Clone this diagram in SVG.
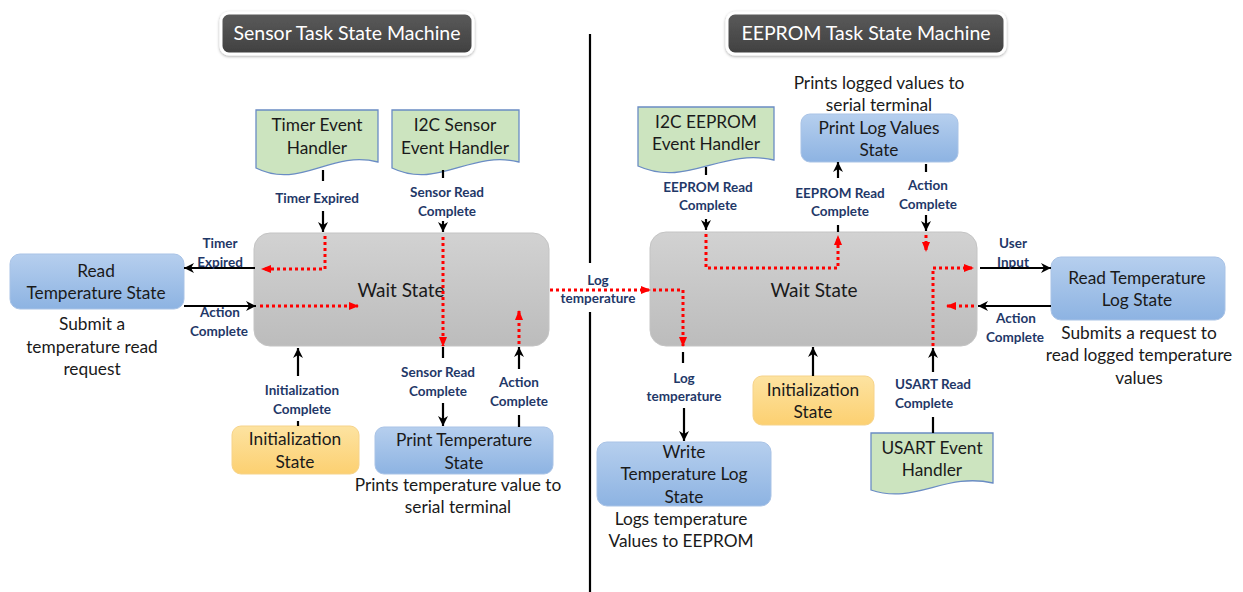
<svg xmlns="http://www.w3.org/2000/svg" width="1243" height="592" viewBox="0 0 1243 592">
<defs>
<linearGradient id="gBlue" x1="0" y1="0" x2="0" y2="1"><stop offset="0" stop-color="#b6cfee"/><stop offset="1" stop-color="#8db3e2"/></linearGradient>
<linearGradient id="gOrange" x1="0" y1="0" x2="0" y2="1"><stop offset="0" stop-color="#fde3a1"/><stop offset="1" stop-color="#fcd071"/></linearGradient>
<linearGradient id="gGray" x1="0" y1="0" x2="0" y2="1"><stop offset="0" stop-color="#d2d2d2"/><stop offset="1" stop-color="#bcbcbc"/></linearGradient>
<linearGradient id="gTitle" x1="0" y1="0" x2="0" y2="1"><stop offset="0" stop-color="#5a5a5a"/><stop offset="1" stop-color="#404040"/></linearGradient>
<filter id="shadow" x="-10%" y="-30%" width="120%" height="160%"><feDropShadow dx="0" dy="1" stdDeviation="1.5" flood-color="#000" flood-opacity="0.35"/></filter>
<marker id="ab" markerUnits="userSpaceOnUse" markerWidth="12" markerHeight="12" viewBox="0 0 12 12" refX="11" refY="6" orient="auto"><path d="M1,1 L11,6 L1,11 L4,6 Z" fill="#000"/></marker>
<marker id="ar" markerUnits="userSpaceOnUse" markerWidth="10" markerHeight="10" viewBox="0 0 10 10" refX="9" refY="5" orient="auto"><path d="M0,1 L10,5 L0,9 Z" fill="#ff0000"/></marker>
<style>
.title{fill:url(#gTitle);stroke:#fff;stroke-width:3;filter:url(#shadow)}
.tt{font-family:Lato,"Liberation Sans",sans-serif;font-size:19.5px;fill:#fff;text-anchor:middle}
.blue{fill:url(#gBlue);stroke:#a9c3e6;stroke-width:1}
.orange{fill:url(#gOrange);stroke:#f6d38a;stroke-width:1}
.gray{fill:url(#gGray);stroke:#c4c4c4;stroke-width:1}
.doc{fill:#cce4bf;stroke:#6a8cc4;stroke-width:1.3}
.t{font-family:Lato,"Liberation Sans",sans-serif;font-size:17.3px;fill:#1a1a1a;text-anchor:middle}
.tw{font-family:Lato,"Liberation Sans",sans-serif;font-size:19px;fill:#1a1a1a;text-anchor:middle}
.l{font-family:Lato,"Liberation Sans",sans-serif;font-size:13.5px;font-weight:bold;fill:#1f3868;text-anchor:middle}
.ls{font-family:Lato,"Liberation Sans",sans-serif;font-size:13.5px;font-weight:bold;fill:#1f3868}
.bk{fill:none;stroke:#000;stroke-width:2.2}
.ba{fill:none;stroke:#000;stroke-width:2.2;marker-end:url(#ab)}
.rd{fill:none;stroke:#ff0000;stroke-width:3;stroke-dasharray:3 3;marker-end:url(#ar)}
</style>
</defs>
<rect width="1243" height="592" fill="#fff"/>

<g id="title-sensor"><rect class="title" x="221" y="13" width="252" height="41" rx="8"/><text class="tt" x="347" y="40">Sensor Task State Machine</text></g>
<g id="title-eeprom"><rect class="title" x="727" y="13" width="278" height="41" rx="8"/><text class="tt" x="866" y="40">EEPROM Task State Machine</text></g>

<g id="divider"><path class="bk" d="M590,34 V263 M590,312 V592"/></g>

<!-- Left side nodes -->
<g id="wait-sensor"><rect class="gray" x="254" y="233" width="295" height="113" rx="16"/><text class="tw" x="401" y="297">Wait State</text></g>
<g id="read-temp"><rect class="blue" x="10" y="254" width="174" height="55" rx="10"/><text class="t" x="96" y="277">Read</text><text class="t" x="96" y="299">Temperature State</text>
<text class="t" x="92" y="330">Submit a</text><text class="t" x="92" y="353">temperature read</text><text class="t" x="92" y="375">request</text></g>
<g id="timer-handler"><path class="doc" d="M256,110 H378 V162 C330,150 300,190 256,168 Z"/><text class="t" x="317" y="131">Timer Event</text><text class="t" x="317" y="154">Handler</text></g>
<g id="i2c-sensor-handler"><path class="doc" d="M392,110 H519 V162 C470,150 438,190 392,168 Z"/><text class="t" x="455" y="131">I2C Sensor</text><text class="t" x="455" y="154">Event Handler</text></g>
<g id="init-sensor"><rect class="orange" x="232" y="426" width="127" height="48" rx="9"/><text class="t" x="295" y="445">Initialization</text><text class="t" x="295" y="468">State</text></g>
<g id="print-temp"><rect class="blue" x="375" y="427" width="178" height="47" rx="9"/><text class="t" x="464" y="446">Print Temperature</text><text class="t" x="464" y="469">State</text>
<text class="t" x="458" y="491">Prints temperature value to</text><text class="t" x="458" y="513">serial terminal</text></g>

<!-- Right side nodes -->
<g id="wait-eeprom"><rect class="gray" x="650" y="232" width="327" height="114" rx="16"/><text class="tw" x="814" y="297">Wait State</text></g>
<g id="i2c-eeprom-handler"><path class="doc" d="M638,107 H774 V160 C721,148 687,188 638,166 Z"/><text class="t" x="706" y="128">I2C EEPROM</text><text class="t" x="706" y="150">Event Handler</text></g>
<g id="print-log"><rect class="blue" x="801" y="114" width="157" height="48" rx="9"/><text class="t" x="879" y="134">Print Log Values</text><text class="t" x="879" y="156">State</text>
<text class="t" x="879" y="89">Prints logged values to</text><text class="t" x="879" y="111">serial terminal</text></g>
<g id="read-temp-log"><rect class="blue" x="1051" y="257" width="174" height="63" rx="10"/><text class="t" x="1137" y="284">Read Temperature</text><text class="t" x="1137" y="306">Log State</text>
<text class="t" x="1139" y="339">Submits a request to</text><text class="t" x="1139" y="361">read logged temperature</text><text class="t" x="1139" y="384">values</text></g>
<g id="init-eeprom"><rect class="orange" x="753" y="376" width="121" height="49" rx="9"/><text class="t" x="813" y="396">Initialization</text><text class="t" x="813" y="418">State</text></g>
<g id="usart-handler"><path class="doc" d="M871,433 H993 V483 C945,472 915,505 871,490 Z"/><text class="t" x="932" y="454">USART Event</text><text class="t" x="932" y="476">Handler</text></g>
<g id="write-temp-log"><rect class="blue" x="597" y="442" width="174" height="64" rx="10"/><text class="t" x="684" y="458">Write</text><text class="t" x="684" y="480">Temperature Log</text><text class="t" x="684" y="503">State</text>
<text class="t" x="681" y="525">Logs temperature</text><text class="t" x="681" y="547">Values to EEPROM</text></g>

<g id="connectors">
<path class="bk" d="M323,170 V181"/>
<path class="ba" d="M323,211 V232"/>
<path class="rd" d="M325,236 V269 H262"/>
<path class="ba" d="M255,268 H184"/>
<path class="ba" d="M184,306 H256"/>
<path class="rd" d="M260,306 H358"/>
<path class="bk" d="M443,170 V178"/>
<path class="ba" d="M443,221 V232"/>
<path class="rd" d="M443,237 V346"/>
<path class="bk" d="M443,347 V358"/>
<path class="ba" d="M443,403 V426"/>
<path class="bk" d="M519,415 V427"/>
<path class="ba" d="M519,369 V347"/>
<path class="rd" d="M519,344 V311"/>
<path class="ba" d="M298,376 V348"/>
<path class="bk" d="M298,421 V426"/>
<path class="rd" d="M550,290 H650"/>
<path class="rd" d="M653,290 H683 V346"/>
<path class="bk" d="M683,352 V363"/>
<path class="ba" d="M684,408 V441"/>
<path class="bk" d="M706,167 V175"/>
<path class="ba" d="M706,219 V230"/>
<path class="rd" d="M706,234 V268 H838 V236"/>
<path class="bk" d="M838,225 V232"/>
<path class="ba" d="M838,178 V162"/>
<path class="bk" d="M926,164 V172"/>
<path class="ba" d="M926,215 V231"/>
<path class="rd" d="M926,235 V251"/>
<path class="rd" d="M933,346 V268 H973"/>
<path class="ba" d="M980,268 H1051"/>
<path class="ba" d="M1051,306 H978"/>
<path class="rd" d="M974,306 H947"/>
<path class="ba" d="M933,372 V348"/>
<path class="bk" d="M933,417 V433"/>
<path class="ba" d="M813,376 V347"/>
</g>

<g id="labels">
<text class="l" x="317" y="203">Timer Expired</text>
<text class="l" x="220" y="248">Timer</text><text class="l" x="220" y="267">Expired</text>
<text class="l" x="220" y="317">Action</text><text class="l" x="219" y="336">Complete</text>
<text class="l" x="447" y="197">Sensor Read</text><text class="l" x="447" y="216">Complete</text>
<text class="l" x="302" y="395">Initialization</text><text class="l" x="302" y="414">Complete</text>
<text class="l" x="438" y="377">Sensor Read</text><text class="l" x="438" y="396">Complete</text>
<text class="l" x="519" y="387">Action</text><text class="l" x="519" y="406">Complete</text>
<text class="l" x="598" y="285">Log</text><text class="l" x="598" y="303">temperature</text>
<text class="l" x="708" y="192">EEPROM Read</text><text class="l" x="708" y="210">Complete</text>
<text class="l" x="840" y="198">EEPROM Read</text><text class="l" x="840" y="216">Complete</text>
<text class="l" x="928" y="190">Action</text><text class="l" x="928" y="209">Complete</text>
<text class="l" x="1013" y="248">User</text><text class="l" x="1013" y="267">Input</text>
<text class="l" x="1016" y="323">Action</text><text class="l" x="1015" y="342">Complete</text>
<text class="l" x="684" y="383">Log</text><text class="l" x="684" y="401">temperature</text>
<text class="ls" x="895" y="389">USART Read</text><text class="ls" x="895" y="408">Complete</text>
</g>
</svg>
